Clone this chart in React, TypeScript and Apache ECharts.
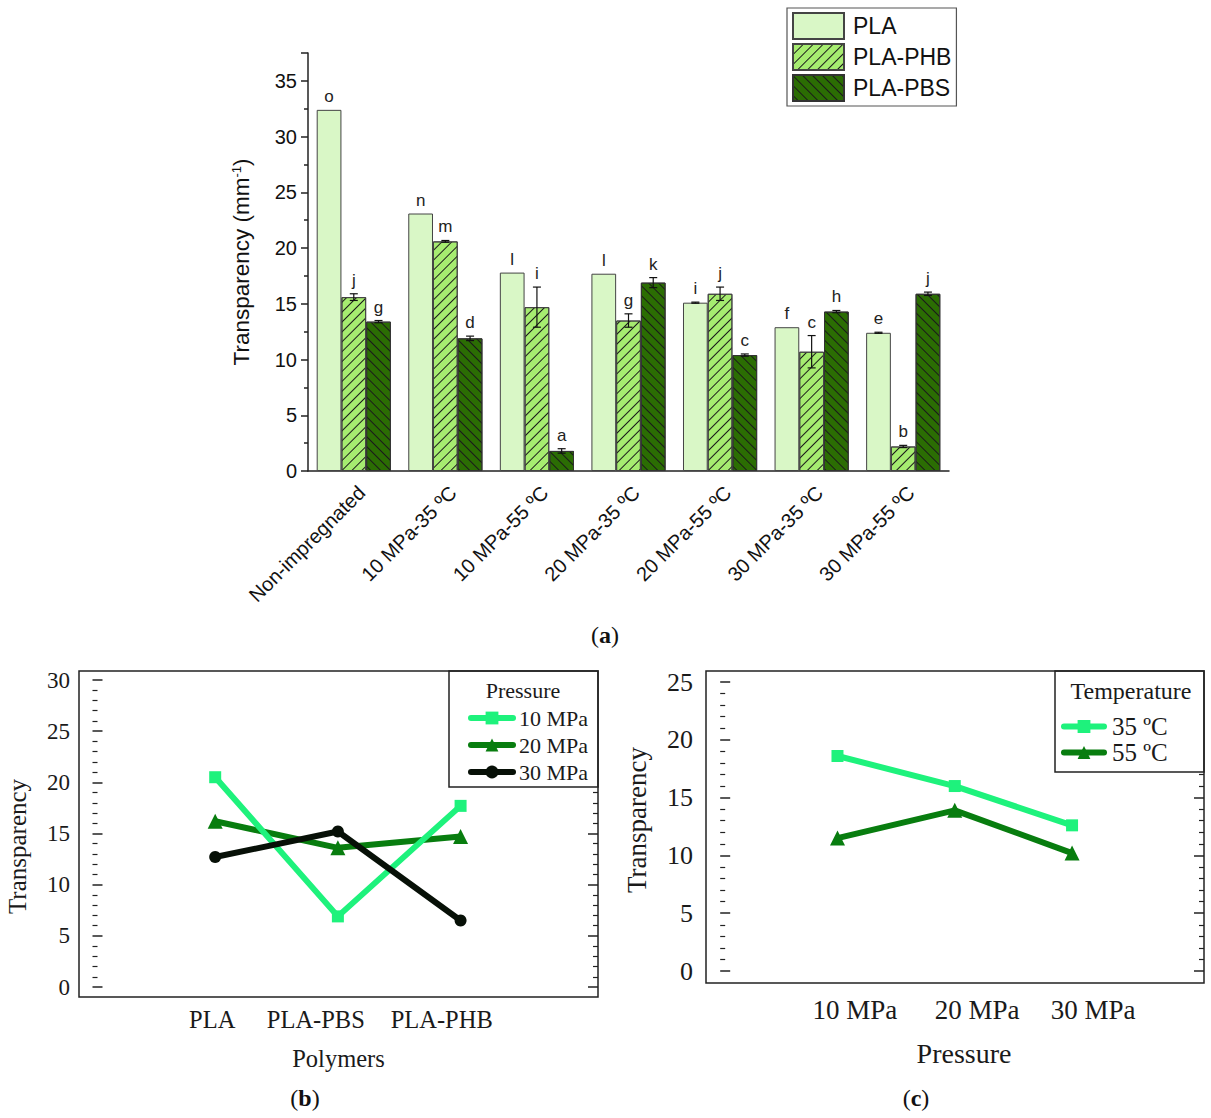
import React, { useEffect, useRef } from "react";
import * as echarts from "echarts";

// ---------- data: panel (a) ----------
const categories = [
  "Non-impregnated",
  "10 MPa-35 ºC",
  "10 MPa-55 ºC",
  "20 MPa-35 ºC",
  "20 MPa-55 ºC",
  "30 MPa-35 ºC",
  "30 MPa-55 ºC",
];
const plaValues = [32.4, 23.1, 17.8, 17.7, 15.1, 12.9, 12.4];
const plaErrors = [0, 0, 0, 0, 0.05, 0, 0.05];
const plaLetters = ["o", "n", "l", "l", "i", "f", "e"];
const phbValues = [15.6, 20.6, 14.7, 13.5, 15.9, 10.7, 2.2];
const phbErrors = [0.3, 0.08, 1.8, 0.6, 0.6, 1.45, 0.1];
const phbLetters = ["j", "m", "i", "g", "j", "c", "b"];
const pbsValues = [13.4, 11.9, 1.8, 16.9, 10.4, 14.3, 15.9];
const pbsErrors = [0.1, 0.2, 0.2, 0.45, 0.1, 0.1, 0.15];
const pbsLetters = ["g", "d", "a", "k", "c", "h", "j"];

// ---------- data: panel (b) ----------
const polymers = ["PLA", "PLA-PBS", "PLA-PHB"];
const p10 = [20.5, 6.9, 17.7];
const p20 = [16.2, 13.6, 14.7];
const p30 = [12.7, 15.2, 6.5];

// ---------- data: panel (c) ----------
const pressures = ["10 MPa", "20 MPa", "30 MPa"];
const t35 = [18.6, 16.0, 12.6];
const t55 = [11.5, 13.9, 10.2];

// ---------- layout / style ----------
const SANS = "Liberation Sans, Arial, sans-serif";
const SERIF = "Liberation Serif, Times New Roman, serif";
const CAT_GAP = 0.19;
const C_PLA = "#d9f7c6";
const C_PHB = "#a6ec70";
const C_PBS = "#2b6d03";
const C_BRIGHT = "#1ef27c";
const C_DARK = "#087d0f";
const C_BLACK = "#071007";
// label shifts (layout) for panels b and c, in axis units relative to points
const B_LABEL_SHIFT = [-0.024, -0.18, -0.154];
const C_LABEL_SHIFT = [0.148, 0.19, 0.18];

const hatch = (rot: number) => ({
  symbol: "rect",
  symbolSize: 1,
  dashArrayX: [1, 0],
  dashArrayY: [1, 6],
  rotation: rot,
  color: "#1a1a1a",
});

function errSeries(k: number, vals: number[], errs: number[], letters: string[]) {
  return {
    type: "custom",
    name: "err" + k,
    xAxisIndex: 0,
    yAxisIndex: 0,
    z: 5,
    silent: true,
    data: vals.map((v, i) => [i, v, errs[i]]),
    encode: { x: 0, y: 1 },
    renderItem: (params: any, api: any) => {
      const i = api.value(0);
      const v = api.value(1);
      const e = api.value(2);
      const band = api.coord([1, 0])[0] - api.coord([0, 0])[0];
      const bw = (band * (1 - CAT_GAP)) / 3;
      const c = api.coord([i, v]);
      const x = c[0] + (k - 1) * bw;
      const top = api.coord([i, v + e])[1];
      const bot = api.coord([i, v - e])[1];
      const children: any[] = [];
      const ls = { stroke: "#111", lineWidth: 1.2 };
      if (e > 0) {
        children.push({ type: "line", shape: { x1: x, y1: top, x2: x, y2: bot }, style: ls });
        children.push({ type: "line", shape: { x1: x - 4, y1: top, x2: x + 4, y2: top }, style: ls });
        children.push({ type: "line", shape: { x1: x - 4, y1: bot, x2: x + 4, y2: bot }, style: ls });
      }
      children.push({
        type: "text",
        style: {
          text: letters[params.dataIndex],
          x,
          y: top - 5,
          align: "center",
          verticalAlign: "bottom",
          fill: "#222",
          fontSize: 17,
          fontFamily: SANS,
        },
      });
      return { type: "group", children };
    },
  };
}

function buildOption() {
  const bLabelPos = polymers.map((_, i) => i + 1 + B_LABEL_SHIFT[i]);
  const cLabelPos = pressures.map((_, i) => i + 1 + C_LABEL_SHIFT[i]);
  const nearest = (arr: number[], names: string[]) => (v: number) => {
    const idx = arr.findIndex((p) => Math.abs(p - v) < 1e-3);
    return idx >= 0 ? names[idx] : "";
  };

  const serifAxisY = (gridIndex: number, max: number, fs: number, margin: number, name: string, nameGap: number, nameFs: number, pad: number[]) => [
    {
      type: "value",
      gridIndex,
      min: 0,
      max,
      interval: 5,
      position: "left",
      axisLine: { show: false },
      axisTick: { show: true, inside: true, length: 10, lineStyle: { color: "#222", width: 1.5 } },
      minorTick: { show: true, splitNumber: 5, length: 5, lineStyle: { color: "#222", width: 1.2 } },
      splitLine: { show: false },
      axisLabel: { fontFamily: SERIF, fontSize: fs, color: "#1a1a1a", margin },
      name,
      nameLocation: "middle",
      nameGap,
      nameTextStyle: { fontFamily: SERIF, fontSize: nameFs, color: "#1a1a1a", padding: pad },
    },
    {
      type: "value",
      gridIndex,
      min: 0,
      max,
      interval: 5,
      position: "right",
      axisLine: { show: false },
      axisTick: { show: true, inside: true, length: 10, lineStyle: { color: "#222", width: 1.5 } },
      minorTick: { show: true, splitNumber: 5, length: 5, lineStyle: { color: "#222", width: 1.2 } },
      splitLine: { show: false },
      axisLabel: { show: false },
    },
  ];

  return {
    animation: false,
    backgroundColor: "#fff",
    grid: [
      { left: 308, right: 262, top: 53, bottom: 647 },
      { left: 79, right: 613, top: 680, bottom: 131 },
      { left: 706, right: 7, top: 682, bottom: 147 },
    ],
    xAxis: [
      {
        type: "category",
        gridIndex: 0,
        data: categories,
        axisLine: { lineStyle: { color: "#222", width: 1.5 } },
        axisTick: { alignWithLabel: true, length: 8, lineStyle: { color: "#222", width: 1.5 } },
        axisLabel: { rotate: 45, fontFamily: SANS, fontSize: 20, color: "#111", margin: 26, padding: [0, -11, 0, 0] },
      },
      {
        type: "category",
        gridIndex: 0,
        data: categories,
        axisLine: { show: false },
        axisTick: { alignWithLabel: false, length: 4, lineStyle: { color: "#222", width: 1.5 } },
        axisLabel: { show: false },
      },
      {
        type: "value",
        gridIndex: 1,
        min: -0.11,
        max: 4.12,
        axisLine: { show: false },
        axisTick: { show: false },
        splitLine: { show: false },
        axisLabel: {
          customValues: bLabelPos,
          formatter: nearest(bLabelPos, polymers),
          fontFamily: SERIF,
          fontSize: 24.5,
          color: "#1a1a1a",
          margin: 20,
        },
        name: "Polymers",
        nameLocation: "middle",
        nameGap: 59,
        nameTextStyle: { fontFamily: SERIF, fontSize: 24.5, color: "#1a1a1a" },
      },
      {
        type: "value",
        gridIndex: 2,
        min: -0.121,
        max: 4.125,
        axisLine: { show: false },
        axisTick: { show: false },
        splitLine: { show: false },
        axisLabel: {
          customValues: cLabelPos,
          formatter: nearest(cLabelPos, pressures),
          fontFamily: SERIF,
          fontSize: 27,
          color: "#1a1a1a",
          margin: 25,
        },
        name: "Pressure",
        nameLocation: "middle",
        nameGap: 68,
        nameTextStyle: { fontFamily: SERIF, fontSize: 28, color: "#1a1a1a", padding: [0, 0, 0, 18] },
      },
    ],
    yAxis: [
      {
        type: "value",
        gridIndex: 0,
        min: 0,
        max: 37.5,
        interval: 5,
        axisLine: { show: true, lineStyle: { color: "#222", width: 1.5 } },
        axisTick: { show: true, length: 7, lineStyle: { color: "#222", width: 1.5 } },
        minorTick: { show: true, splitNumber: 2, length: 4, lineStyle: { color: "#222", width: 1.5 } },
        splitLine: { show: false },
        axisLabel: { fontFamily: SANS, fontSize: 20, color: "#111", margin: 11, showMaxLabel: false },
        name: "{t|Transparency (mm}{s|-1}{t|)}",
        nameLocation: "middle",
        nameGap: 55,
        nameTextStyle: {
          rich: {
            t: { fontFamily: SANS, fontSize: 22.5, color: "#111" },
            s: { fontFamily: SANS, fontSize: 13, color: "#111", verticalAlign: "top" },
          },
        },
      },
      ...serifAxisY(1, 30, 23, 9, "Transparency", 49, 25, [0, 26, 0, 0]),
      ...serifAxisY(2, 25, 26, 13, "Transparency", 56, 27, [0, 0, 0, 13]),
    ],
    legend: [
      {
        data: ["PLA", "PLA-PHB", "PLA-PBS"],
        orient: "vertical",
        left: 787,
        top: 8,
        padding: [4, 5, 4, 5],
        itemWidth: 51,
        itemHeight: 26,
        itemGap: 3,
        icon: "rect",
        borderColor: "#555",
        borderWidth: 1.2,
        textStyle: { fontFamily: SANS, fontSize: 23, color: "#111", padding: [0, 0, 0, 4] },
      },
      {
        data: ["10 MPa", "20 MPa", "30 MPa"],
        orient: "vertical",
        left: 468,
        top: 707,
        padding: 0,
        itemWidth: 42,
        itemHeight: 16,
        itemGap: 5,
        lineStyle: { width: 6, cap: "round" },
        textStyle: { fontFamily: SERIF, fontSize: 22, lineHeight: 20, color: "#1a1a1a", padding: [0, 0, 0, 1] },
      },
      {
        data: ["35 ºC", "55 ºC"],
        orient: "vertical",
        left: 1061,
        top: 714,
        padding: 0,
        itemWidth: 40,
        itemHeight: 16,
        itemGap: 1,
        lineStyle: { width: 6, cap: "round" },
        textStyle: { fontFamily: SERIF, fontSize: 25, lineHeight: 22, color: "#1a1a1a", padding: [0, 0, 0, 3] },
      },
    ],
    graphic: [
      { type: "rect", shape: { x: 79, y: 671, width: 519, height: 326 }, style: { fill: "none", stroke: "#222", lineWidth: 1.5 }, z: 10 },
      { type: "rect", shape: { x: 706, y: 671, width: 498, height: 312 }, style: { fill: "none", stroke: "#222", lineWidth: 1.5 }, z: 10 },
      { type: "rect", shape: { x: 449, y: 671, width: 149, height: 116 }, style: { fill: "#fff", stroke: "#222", lineWidth: 1.5 }, z: 1 },
      { type: "rect", shape: { x: 1055, y: 671, width: 149, height: 101 }, style: { fill: "#fff", stroke: "#222", lineWidth: 1.5 }, z: 1 },
      { type: "text", style: { text: "Pressure", x: 523, y: 690, align: "center", verticalAlign: "middle", fontFamily: SERIF, fontSize: 22, fill: "#1a1a1a" }, z: 11 },
      { type: "text", style: { text: "Temperature", x: 1131, y: 691, align: "center", verticalAlign: "middle", fontFamily: SERIF, fontSize: 24, fill: "#1a1a1a" }, z: 11 },
      {
        type: "text",
        style: {
          text: "{n|(}{b|a}{n|)}", x: 605, y: 635, align: "center", verticalAlign: "middle",
          rich: { n: { fontFamily: SERIF, fontSize: 24, fill: "#111" }, b: { fontFamily: SERIF, fontSize: 24, fontWeight: "bold", fill: "#111" } },
        },
      },
      {
        type: "text",
        style: {
          text: "{n|(}{b|b}{n|)}", x: 305, y: 1098, align: "center", verticalAlign: "middle",
          rich: { n: { fontFamily: SERIF, fontSize: 24, fill: "#111" }, b: { fontFamily: SERIF, fontSize: 24, fontWeight: "bold", fill: "#111" } },
        },
      },
      {
        type: "text",
        style: {
          text: "{n|(}{b|c}{n|)}", x: 916, y: 1098, align: "center", verticalAlign: "middle",
          rich: { n: { fontFamily: SERIF, fontSize: 24, fill: "#111" }, b: { fontFamily: SERIF, fontSize: 24, fontWeight: "bold", fill: "#111" } },
        },
      },
    ],
    series: [
      {
        type: "bar",
        name: "PLA",
        xAxisIndex: 0,
        yAxisIndex: 0,
        data: plaValues,
        barGap: "0%",
        barCategoryGap: CAT_GAP * 100 + "%",
        itemStyle: { color: C_PLA, borderColor: "#444", borderWidth: 1 },
      },
      {
        type: "bar",
        name: "PLA-PHB",
        xAxisIndex: 0,
        yAxisIndex: 0,
        data: phbValues,
        barGap: "0%",
        barCategoryGap: CAT_GAP * 100 + "%",
        itemStyle: { color: C_PHB, borderColor: "#444", borderWidth: 1, decal: hatch(-Math.PI / 4) },
      },
      {
        type: "bar",
        name: "PLA-PBS",
        xAxisIndex: 0,
        yAxisIndex: 0,
        data: pbsValues,
        barGap: "0%",
        barCategoryGap: CAT_GAP * 100 + "%",
        itemStyle: { color: C_PBS, borderColor: "#333", borderWidth: 1, decal: hatch(Math.PI / 4) },
      },
      errSeries(0, plaValues, plaErrors, plaLetters),
      errSeries(1, phbValues, phbErrors, phbLetters),
      errSeries(2, pbsValues, pbsErrors, pbsLetters),
      {
        type: "line",
        name: "20 MPa",
        xAxisIndex: 2,
        yAxisIndex: 1,
        data: p20.map((v, i) => [i + 1, v]),
        symbol: "triangle",
        symbolSize: 15,
        lineStyle: { width: 6, color: C_DARK },
        itemStyle: { color: C_DARK },
        z: 3,
      },
      {
        type: "line",
        name: "10 MPa",
        xAxisIndex: 2,
        yAxisIndex: 1,
        data: p10.map((v, i) => [i + 1, v]),
        symbol: "rect",
        symbolSize: 12,
        lineStyle: { width: 6, color: C_BRIGHT },
        itemStyle: { color: C_BRIGHT },
        z: 4,
      },
      {
        type: "line",
        name: "30 MPa",
        xAxisIndex: 2,
        yAxisIndex: 1,
        data: p30.map((v, i) => [i + 1, v]),
        symbol: "circle",
        symbolSize: 12,
        lineStyle: { width: 6, color: C_BLACK },
        itemStyle: { color: C_BLACK },
        z: 5,
      },
      {
        type: "line",
        name: "35 ºC",
        xAxisIndex: 3,
        yAxisIndex: 3,
        data: t35.map((v, i) => [i + 1, v]),
        symbol: "rect",
        symbolSize: 12,
        lineStyle: { width: 6, color: C_BRIGHT },
        itemStyle: { color: C_BRIGHT },
      },
      {
        type: "line",
        name: "55 ºC",
        xAxisIndex: 3,
        yAxisIndex: 3,
        data: t55.map((v, i) => [i + 1, v]),
        symbol: "triangle",
        symbolSize: 15,
        lineStyle: { width: 6, color: C_DARK },
        itemStyle: { color: C_DARK },
      },
    ],
  };
}

export default function App() {
  const ref = useRef<HTMLDivElement>(null);
  useEffect(() => {
    document.body.style.margin = "0";
    const chart = echarts.init(ref.current!, undefined, { renderer: "svg" });
    chart.setOption(buildOption() as any);
    return () => chart.dispose();
  }, []);
  return <div ref={ref} style={{ width: 1211, height: 1118, position: "absolute", left: 0, top: 0 }} />;
}
